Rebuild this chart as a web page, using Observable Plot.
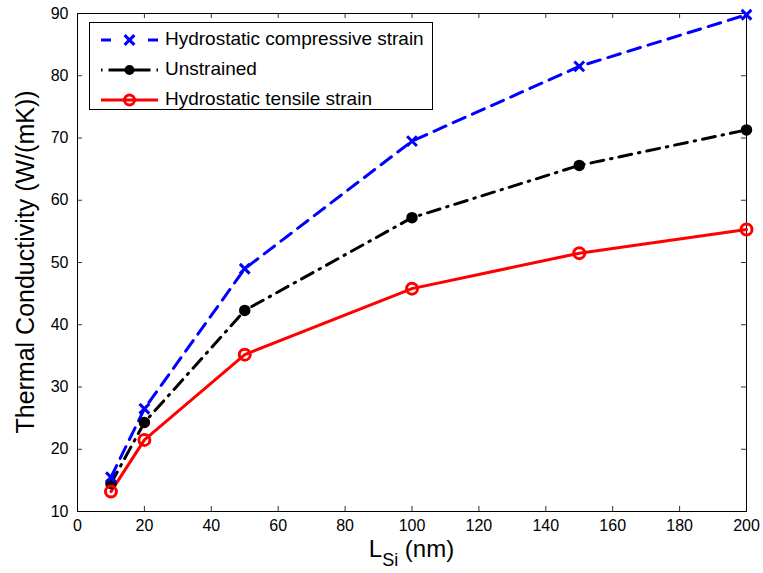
<!DOCTYPE html>
<html><head><meta charset="utf-8">
<script src="https://cdn.jsdelivr.net/npm/d3@7"></script>
<script src="https://cdn.jsdelivr.net/npm/@observablehq/plot@0.6"></script>
<style>
body{margin:0;background:#fff}
#chart{position:relative;width:763px;height:573px}
</style>
</head><body><div id="chart"></div>
<script>
const lengths = [10, 20, 50, 100, 150, 200];
const compressive = [15.5, 26.5, 49.0, 69.5, 81.5, 89.8];
const unstrained = [14.5, 24.3, 42.3, 57.2, 65.6, 71.3];
const tensile = [13.2, 21.5, 35.2, 45.8, 51.5, 55.3];
const seriesNames = ["Hydrostatic compressive strain", "Unstrained", "Hydrostatic tensile strain"];
const xTicks = [0, 20, 40, 60, 80, 100, 120, 140, 160, 180, 200];
const yTicks = [10, 20, 30, 40, 50, 60, 70, 80, 90];
const xLabel = "L";
const xLabelSub = "Si";
const xLabelUnit = " (nm)";
const yLabel = "Thermal Conductivity (W/(mK))";

const rows = (vals) => lengths.map((x, i) => ({x, y: vals[i]}));
const comp = rows(compressive), unst = rows(unstrained), tens = rows(tensile);

const W = 763, H = 573, mL = 77, mR = 17, mT = 13, mB = 62;
const innerH = H - mT - mB, innerW = W - mL - mR;
const font = "'Liberation Sans', Arial, Helvetica, sans-serif";

const plot = Plot.plot({
  width: W, height: H,
  marginLeft: mL, marginRight: mR, marginTop: mT, marginBottom: mB,
  style: {fontFamily: font, fontSize: "16px", color: "black", background: "white"},
  x: {domain: [0, 200], ticks: xTicks, label: null},
  y: {domain: [10, 90], ticks: yTicks, label: null},
  marks: [
    Plot.ruleX(xTicks, {x: d => d, insetTop: innerH - 5, stroke: "#333"}),
    Plot.ruleX(xTicks, {x: d => d, insetBottom: innerH - 5, stroke: "#333"}),
    Plot.ruleY(yTicks, {y: d => d, insetRight: innerW - 5, stroke: "#333"}),
    Plot.ruleY(yTicks, {y: d => d, insetLeft: innerW - 5, stroke: "#333"}),
    Plot.frame({stroke: "black", strokeWidth: 1}),
    Plot.axisX({ticks: xTicks, tickSize: 0, tickPadding: 8, fontSize: 16}),
    Plot.axisY({ticks: yTicks, tickSize: 0, tickPadding: 9, fontSize: 16}),
    Plot.line(unst, {x: "x", y: "y", stroke: "black", strokeWidth: 3, strokeDasharray: "13,7,1.5,7"}),
    Plot.line(comp, {x: "x", y: "y", stroke: "#0000ff", strokeWidth: 3, strokeDasharray: "13,8"}),
    Plot.line(tens, {x: "x", y: "y", stroke: "#ff0000", strokeWidth: 3}),
    Plot.dot(unst, {x: "x", y: "y", r: 5, fill: "black", stroke: "black"}),
    Plot.dot(comp, {x: "x", y: "y", symbol: "times", r: 4.5, stroke: "#0000ff", strokeWidth: 3}),
    Plot.dot(tens, {x: "x", y: "y", r: 5.5, stroke: "#ff0000", strokeWidth: 3, fill: "none"})
  ]
});
document.getElementById("chart").appendChild(plot);

const svg = d3.select(plot);
// y label
svg.append("text")
  .attr("transform", `translate(27,${mT + innerH / 2}) rotate(-90)`)
  .attr("text-anchor", "middle").attr("dominant-baseline", "middle")
  .style("font-family", font).style("font-size", "25px").attr("fill", "black")
  .text(yLabel);
// x label with subscript
const xl = svg.append("text")
  .attr("x", mL + innerW / 2).attr("y", 557)
  .attr("text-anchor", "middle")
  .style("font-family", font).style("font-size", "24px").attr("fill", "black");
xl.append("tspan").text(xLabel);
xl.append("tspan").attr("dy", 9).style("font-size", "18px").text(xLabelSub);
xl.append("tspan").attr("dy", -9).text(xLabelUnit);

// legend
const lg = svg.append("g");
lg.append("rect").attr("x", 89.5).attr("y", 22.5).attr("width", 343).attr("height", 87)
  .attr("fill", "white").attr("stroke", "black").attr("stroke-width", 1);
const legendItems = [
  {name: seriesNames[0], color: "#0000ff", dash: "10,37", marker: "times"},
  {name: seriesNames[1], color: "black", dash: "1.5,6,42,6,1.5", marker: "dot"},
  {name: seriesNames[2], color: "#ff0000", dash: null, marker: "circle"}
];
legendItems.forEach((it, i) => {
  const cy = 40 + i * 30;
  const ln = lg.append("line").attr("x1", 101).attr("x2", 158).attr("y1", cy).attr("y2", cy)
    .attr("stroke", it.color).attr("stroke-width", 3);
  if (it.dash) ln.attr("stroke-dasharray", it.dash);
  if (it.marker === "times") {
    lg.append("path").attr("d", d3.symbol(d3.symbolTimes, 64)())
      .attr("transform", `translate(129.5,${cy})`).attr("stroke", it.color).attr("stroke-width", 3).attr("fill", "none");
  } else if (it.marker === "dot") {
    lg.append("circle").attr("cx", 129.5).attr("cy", cy).attr("r", 5).attr("fill", it.color);
  } else {
    lg.append("circle").attr("cx", 129.5).attr("cy", cy).attr("r", 5).attr("fill", "none")
      .attr("stroke", it.color).attr("stroke-width", 3);
  }
  lg.append("text").attr("x", 165).attr("y", cy).attr("text-anchor", "start")
    .attr("dominant-baseline", "middle")
    .style("font-family", font).style("font-size", "19px").attr("fill", "black").text(it.name);
});
</script>
</body></html>
